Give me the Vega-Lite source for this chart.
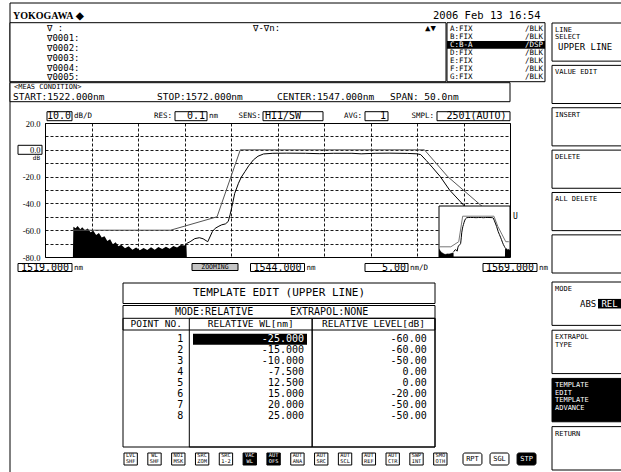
{
"$schema": "https://vega.github.io/schema/vega-lite/v6.json",
"width": 465,
"height": 134,
"autosize": {"type": "none"},
"padding": {"left": 45, "top": 123, "right": 111, "bottom": 215},
"background": "white",
"config": {
  "view": {"stroke": "black", "strokeWidth": 1},
  "locale": {"number": {"decimal": ".", "thousands": ",", "grouping": [3], "currency": ["", ""], "minus": "-"}},
  "text": {"font": "DejaVu Sans Mono", "color": "black", "baseline": "middle"}
},
"datasets": {
  "trace": [
    {"wl": 1534.2, "db": -70.0}, {"wl": 1534.6, "db": -68.6}, {"wl": 1535.1, "db": -66.3}, {"wl": 1535.6, "db": -65.6},
    {"wl": 1536.0, "db": -66.4}, {"wl": 1536.5, "db": -68.6}, {"wl": 1537.0, "db": -61.0}, {"wl": 1537.3, "db": -58.6},
    {"wl": 1537.7, "db": -57.0}, {"wl": 1538.0, "db": -56.0}, {"wl": 1538.4, "db": -55.3}, {"wl": 1538.7, "db": -53.5},
    {"wl": 1538.9, "db": -48.5}, {"wl": 1539.1, "db": -42.4}, {"wl": 1539.4, "db": -32.5}, {"wl": 1539.8, "db": -25.0},
    {"wl": 1540.1, "db": -20.5}, {"wl": 1540.5, "db": -16.3}, {"wl": 1540.9, "db": -12.0}, {"wl": 1541.4, "db": -7.6},
    {"wl": 1541.9, "db": -4.8}, {"wl": 1542.5, "db": -3.1}, {"wl": 1543.5, "db": -2.6}, {"wl": 1545.0, "db": -2.5},
    {"wl": 1547.0, "db": -2.6}, {"wl": 1548.5, "db": -2.9}, {"wl": 1550.0, "db": -2.6}, {"wl": 1552.0, "db": -2.6},
    {"wl": 1553.0, "db": -3.0}, {"wl": 1554.5, "db": -2.6}, {"wl": 1556.0, "db": -2.5}, {"wl": 1558.0, "db": -2.7},
    {"wl": 1559.0, "db": -3.0}, {"wl": 1559.4, "db": -3.6}, {"wl": 1560.0, "db": -8.0}, {"wl": 1560.7, "db": -13.5},
    {"wl": 1561.5, "db": -20.0}, {"wl": 1562.5, "db": -30.0}, {"wl": 1563.3, "db": -36.0}, {"wl": 1564.0, "db": -41.2},
    {"wl": 1564.6, "db": -46.0}, {"wl": 1565.2, "db": -51.0}, {"wl": 1565.8, "db": -55.5}, {"wl": 1566.4, "db": -59.0},
    {"wl": 1566.9, "db": -62.0}
  ],
  "noise": [
    {"wl": 1522.0, "db": -80, "segment": "left"}, {"wl": 1522.05, "db": -57.5, "segment": "left"},
    {"wl": 1522.3, "db": -58.5, "segment": "left"}, {"wl": 1522.5, "db": -56.8, "segment": "left"},
    {"wl": 1522.8, "db": -59.2, "segment": "left"}, {"wl": 1523.0, "db": -57.8, "segment": "left"},
    {"wl": 1523.3, "db": -60.0, "segment": "left"}, {"wl": 1523.6, "db": -58.8, "segment": "left"},
    {"wl": 1523.9, "db": -61.5, "segment": "left"}, {"wl": 1524.2, "db": -60.5, "segment": "left"},
    {"wl": 1524.5, "db": -63.5, "segment": "left"}, {"wl": 1524.8, "db": -62.0, "segment": "left"},
    {"wl": 1525.1, "db": -65.5, "segment": "left"}, {"wl": 1525.4, "db": -64.5, "segment": "left"},
    {"wl": 1525.7, "db": -68.0, "segment": "left"}, {"wl": 1526.0, "db": -66.8, "segment": "left"},
    {"wl": 1526.3, "db": -70.5, "segment": "left"}, {"wl": 1526.6, "db": -69.0, "segment": "left"},
    {"wl": 1526.9, "db": -72.0, "segment": "left"}, {"wl": 1527.2, "db": -70.8, "segment": "left"},
    {"wl": 1527.6, "db": -73.5, "segment": "left"}, {"wl": 1528.0, "db": -72.0, "segment": "left"},
    {"wl": 1528.4, "db": -74.5, "segment": "left"}, {"wl": 1528.8, "db": -73.0, "segment": "left"},
    {"wl": 1529.2, "db": -75.0, "segment": "left"}, {"wl": 1529.6, "db": -73.2, "segment": "left"},
    {"wl": 1530.0, "db": -74.8, "segment": "left"}, {"wl": 1530.4, "db": -72.8, "segment": "left"},
    {"wl": 1530.8, "db": -74.5, "segment": "left"}, {"wl": 1531.2, "db": -72.5, "segment": "left"},
    {"wl": 1531.6, "db": -74.0, "segment": "left"}, {"wl": 1532.0, "db": -72.3, "segment": "left"},
    {"wl": 1532.4, "db": -73.8, "segment": "left"}, {"wl": 1532.8, "db": -71.8, "segment": "left"},
    {"wl": 1533.2, "db": -73.0, "segment": "left"}, {"wl": 1533.6, "db": -71.0, "segment": "left"},
    {"wl": 1534.0, "db": -71.5, "segment": "left"}, {"wl": 1534.2, "db": -70.0, "segment": "left"},
    {"wl": 1534.25, "db": -80, "segment": "left"},
    {"wl": 1566.8, "db": -80, "segment": "right"}, {"wl": 1566.9, "db": -62, "segment": "right"},
    {"wl": 1567.5, "db": -64, "segment": "right"}, {"wl": 1568.0, "db": -63, "segment": "right"},
    {"wl": 1568.5, "db": -66, "segment": "right"}, {"wl": 1569.0, "db": -64, "segment": "right"},
    {"wl": 1569.5, "db": -67, "segment": "right"}, {"wl": 1570.0, "db": -65, "segment": "right"},
    {"wl": 1570.5, "db": -68, "segment": "right"}, {"wl": 1571.0, "db": -66, "segment": "right"},
    {"wl": 1571.5, "db": -69, "segment": "right"}, {"wl": 1572.0, "db": -67, "segment": "right"},
    {"wl": 1572.05, "db": -80, "segment": "right"}
  ],
  "template": [
    {"wl": 1522.0, "db": -60}, {"wl": 1532.5, "db": -60}, {"wl": 1537.5, "db": -50}, {"wl": 1540.0, "db": 0},
    {"wl": 1559.8, "db": 0}, {"wl": 1562.3, "db": -20}, {"wl": 1567.3, "db": -50}, {"wl": 1569.0, "db": -50},
    {"wl": 1572.3, "db": -50}
  ],
  "zoomMarkers": [{"wl": 1526.7}, {"wl": 1568.8}],
  "xlabels": [{"wl": 1519}, {"wl": 1544}, {"wl": 1569}],
  "markers": [
    {"id": 0, "text": "∇    :"}, {"id": 1, "text": "∇0001:"}, {"id": 2, "text": "∇0002:"},
    {"id": 3, "text": "∇0003:"}, {"id": 4, "text": "∇0004:"}, {"id": 5, "text": "∇0005:"}
  ],
  "traces": [
    {"trace": "A", "setting": "A:FIX", "display": "/BLK"},
    {"trace": "B", "setting": "B:FIX", "display": "/BLK"},
    {"trace": "C", "setting": "C:B-A", "display": "/DSP", "active": true},
    {"trace": "D", "setting": "D:FIX", "display": "/BLK"},
    {"trace": "E", "setting": "E:FIX", "display": "/BLK"},
    {"trace": "F", "setting": "F:FIX", "display": "/BLK"},
    {"trace": "G", "setting": "G:FIX", "display": "/BLK"}
  ],
  "meas": [
    {"param": "START", "text": "START:1522.000nm"},
    {"param": "STOP", "text": "STOP:1572.000nm"},
    {"param": "CENTER", "text": "CENTER:1547.000nm"},
    {"param": "SPAN", "text": "SPAN:  50.0nm"}
  ],
  "settings": [
    {"item": "scale", "value": "10.0", "unit": "dB/D"},
    {"item": "res", "label": "RES:", "value": "0.1", "unit": "nm"},
    {"item": "sens", "label": "SENS:", "value": "HI1/SW"},
    {"item": "avg", "label": "AVG:", "value": "1"},
    {"item": "smpl", "label": "SMPL:", "value": "2501(AUTO)"}
  ],
  "table": [
    {"point": 1, "wl": -25, "level": -60, "cursor": true},
    {"point": 2, "wl": -15, "level": -60},
    {"point": 3, "wl": -10, "level": -50},
    {"point": 4, "wl": -7.5, "level": 0},
    {"point": 5, "wl": 12.5, "level": 0},
    {"point": 6, "wl": 15, "level": -20},
    {"point": 7, "wl": 20, "level": -50},
    {"point": 8, "wl": 25, "level": -50}
  ],
  "tablecols": [
    {"col": "wl", "header": "RELATIVE WL[nm]"},
    {"col": "level", "header": "RELATIVE LEVEL[dB]"}
  ],
  "softkeys": [
    {"key": 1, "group": "upper", "label": ["LINE", "SELECT"], "value": "UPPER LINE"},
    {"key": 2, "group": "upper", "label": ["VALUE EDIT"]},
    {"key": 3, "group": "upper", "label": ["INSERT"]},
    {"key": 4, "group": "upper", "label": ["DELETE"]},
    {"key": 5, "group": "upper", "label": ["ALL DELETE"]},
    {"key": 6, "group": "upper", "label": [""]},
    {"key": 7, "group": "lower", "label": ["MODE"], "value": "ABS", "selected": "REL"},
    {"key": 8, "group": "lower", "label": ["EXTRAPOL", "TYPE"]},
    {"key": 9, "group": "lower", "label": ["TEMPLATE", "EDIT", "TEMPLATE", "ADVANCE"], "menu": true},
    {"key": 10, "group": "lower", "label": ["RETURN"]}
  ],
  "buttons": [
    {"b": "LVL SHF", "group": "func", "lines": ["LVL", "SHF"]},
    {"b": "WL SHF", "group": "func", "lines": ["WL", "SHF"]},
    {"b": "NOI MSK", "group": "func", "lines": ["NOI", "MSK"]},
    {"b": "SRC ZOM", "group": "func", "lines": ["SRC", "ZOM"]},
    {"b": "SRC 1-2", "group": "func", "lines": ["SRC", "1-2"]},
    {"b": "VAC WL", "group": "func", "lines": ["VAC", "WL"], "on": true},
    {"b": "AUT OFS", "group": "func", "lines": ["AUT", "OFS"], "on": true},
    {"b": "AUT ANA", "group": "func", "lines": ["AUT", "ANA"]},
    {"b": "AUT SRC", "group": "func", "lines": ["AUT", "SRC"]},
    {"b": "AUT SCL", "group": "func", "lines": ["AUT", "SCL"]},
    {"b": "AUT REF", "group": "func", "lines": ["AUT", "REF"]},
    {"b": "AUT CTR", "group": "func", "lines": ["AUT", "CTR"]},
    {"b": "SWP INT", "group": "func", "lines": ["SWP", "INT"]},
    {"b": "SMO OTH", "group": "func", "lines": ["SMO", "OTH"]},
    {"b": "RPT", "group": "sweep", "lines": ["RPT"]},
    {"b": "SGL", "group": "sweep", "lines": ["SGL"]},
    {"b": "STP", "group": "sweep", "lines": ["STP"], "on": true}
  ]
},
"resolve": {"scale": {"x": "independent", "y": "independent"}},
"layer": [
  {
    "data": {"values": [{"part": "screen"}]},
    "mark": {"type": "rect", "filled": false, "color": "black", "strokeWidth": 1},
    "encoding": {
      "x": {"field": "part", "type": "nominal", "scale": {"type": "band", "range": [-35, 700], "paddingInner": 0, "paddingOuter": 0}, "axis": null},
      "y": {"field": "part", "type": "nominal", "scale": {"type": "band", "range": [-120, 500], "paddingInner": 0, "paddingOuter": 0}, "axis": null}
    }
  },
  {
    "encoding": {
      "x": {"field": "wl", "type": "quantitative", "scale": {"domain": [1519, 1569]},
        "axis": {"values": [1519, 1524, 1529, 1534, 1539, 1544, 1549, 1554, 1559, 1564, 1569], "grid": true, "gridColor": "black", "gridDash": [3, 2], "gridWidth": 1, "gridOpacity": 0.9, "labels": false, "ticks": false, "domain": false, "title": null}},
      "y": {"field": "db", "type": "quantitative", "scale": {"domain": [-80, 20]},
        "axis": {"values": [-80, -70, -60, -50, -40, -30, -20, -10, 0, 10, 20], "grid": true, "gridColor": "black", "gridDash": [3, 2], "gridWidth": 1, "gridOpacity": 0.9, "ticks": false, "domain": false, "title": null,
          "labelExpr": "datum.value % 20 == 0 ? datum.value + '.0' : ''", "labelFont": "Liberation Sans Narrow", "labelFontSize": 8.5, "labelColor": "black", "labelPadding": 5, "labelFlush": false, "labelOverlap": false}}
    },
    "layer": [
      {"data": {"name": "noise"}, "transform": [{"filter": "datum.wl <= 1569"}], "mark": {"type": "area", "color": "black"},
       "encoding": {"y2": {"datum": -80}, "detail": {"field": "segment", "type": "nominal"}}},
      {"data": {"name": "template"}, "transform": [{"filter": "datum.wl <= 1569"}], "mark": {"type": "line", "color": "#555555", "strokeWidth": 1}},
      {"data": {"name": "trace"}, "transform": [{"filter": "datum.wl <= 1569"}], "mark": {"type": "line", "color": "black", "strokeWidth": 1}}
    ]
  },
  {
    "data": {"values": [{"panel": "overview"}]},
    "mark": {"type": "rect", "fill": "white", "stroke": "black", "strokeWidth": 1},
    "encoding": {
      "x": {"field": "panel", "type": "nominal", "scale": {"type": "band", "range": [394, 465], "paddingInner": 0, "paddingOuter": 0}, "axis": null},
      "y": {"field": "panel", "type": "nominal", "scale": {"type": "band", "range": [83, 134], "paddingInner": 0, "paddingOuter": 0}, "axis": null}
    }
  },
  {
    "encoding": {
      "x": {"field": "wl", "type": "quantitative", "scale": {"domain": [1525, 1570], "range": [394, 465], "clamp": true}, "axis": null},
      "y": {"field": "db", "type": "quantitative", "scale": {"domain": [-80, 20], "range": [134, 83]}, "axis": null}
    },
    "layer": [
      {"data": {"name": "noise"}, "mark": {"type": "area", "color": "black"}, "encoding": {"y2": {"datum": -80}, "detail": {"field": "segment", "type": "nominal"}}},
      {"data": {"name": "template"}, "mark": {"type": "line", "color": "#777777", "strokeWidth": 1}},
      {"data": {"name": "trace"}, "mark": {"type": "line", "color": "black", "strokeWidth": 1}},
      {"data": {"name": "zoomMarkers"}, "mark": {"type": "rule", "color": "black", "strokeDash": [1, 1], "strokeWidth": 1},
       "encoding": {"y": {"datum": -80, "type": "quantitative"}, "y2": {"datum": 20}}}
    ]
  },
  {
    "data": {"values": [{"item": "upper", "text": "U"}]},
    "mark": {"type": "text", "align": "left", "fontSize": 8},
    "encoding": {
      "x": {"field": "item", "type": "nominal", "scale": {"type": "point", "range": [468, 468], "padding": 0}, "axis": null},
      "y": {"field": "item", "type": "nominal", "scale": {"type": "point", "range": [93.5, 93.5], "padding": 0}, "axis": null},
      "text": {"field": "text"}
    }
  },
  {
    "data": {"values": [{"ref": 0}]},
    "encoding": {
      "x": {"datum": "ref", "type": "nominal", "scale": {"type": "band", "range": [-27, -3], "paddingInner": 0, "paddingOuter": 0}, "axis": null},
      "y": {"field": "ref", "type": "quantitative", "scale": {"domain": [-80, 20]}, "axis": null}
    },
    "layer": [
      {"mark": {"type": "rect", "filled": false, "color": "black", "strokeWidth": 1, "height": 9}},
      {"mark": {"type": "text", "text": "dB", "align": "right", "dx": -2, "dy": 8.5, "fontSize": 6},
       "encoding": {"x": {"datum": "ref", "type": "nominal", "bandPosition": 1}}}
    ]
  },
  {
    "data": {"name": "xlabels"},
    "encoding": {
      "x": {"field": "wl", "type": "quantitative", "scale": {"domain": [1519, 1569]}, "axis": null},
      "y": {"datum": "row", "type": "nominal", "scale": {"type": "band", "range": [140.5, 148.5], "paddingInner": 0, "paddingOuter": 0}, "axis": null}
    },
    "layer": [
      {"mark": {"type": "rect", "fill": "white", "stroke": "black", "strokeWidth": 1, "width": 54}},
      {"mark": {"type": "text", "align": "center", "fontSize": 10}, "encoding": {"text": {"field": "wl", "type": "quantitative", "format": ".3f"}}},
      {"mark": {"type": "text", "text": "nm", "align": "left", "dx": 29, "fontSize": 7.5}}
    ]
  },
  {
    "data": {"values": [{"item": "ZOOMING"}]},
    "encoding": {
      "x": {"field": "item", "type": "nominal", "scale": {"type": "band", "range": [147, 193], "paddingInner": 0, "paddingOuter": 0}, "axis": null},
      "y": {"field": "item", "type": "nominal", "scale": {"type": "band", "range": [140.5, 147.5], "paddingInner": 0, "paddingOuter": 0}, "axis": null}
    },
    "layer": [
      {"mark": {"type": "rect", "fill": "#c4c4c4", "stroke": "black", "strokeWidth": 1}},
      {"mark": {"type": "text", "align": "center", "fontSize": 6.5}, "encoding": {"text": {"field": "item"}}}
    ]
  },
  {
    "data": {"values": [{"item": "div", "value": "5.00", "unit": "nm/D"}]},
    "encoding": {
      "x": {"field": "item", "type": "nominal", "scale": {"type": "band", "range": [320, 363], "paddingInner": 0, "paddingOuter": 0}, "axis": null},
      "y": {"field": "item", "type": "nominal", "scale": {"type": "band", "range": [140.5, 148.5], "paddingInner": 0, "paddingOuter": 0}, "axis": null}
    },
    "layer": [
      {"mark": {"type": "rect", "fill": "white", "stroke": "black", "strokeWidth": 1}},
      {"mark": {"type": "text", "align": "right", "dx": -2, "fontSize": 10}, "encoding": {"x": {"field": "item", "type": "nominal", "bandPosition": 1}, "text": {"field": "value"}}},
      {"mark": {"type": "text", "align": "left", "dx": 2, "fontSize": 7.5}, "encoding": {"x": {"field": "item", "type": "nominal", "bandPosition": 1}, "text": {"field": "unit"}}}
    ]
  },
  {
    "data": {"values": [{"item": "maker", "text": "YOKOGAWA ◆"}]},
    "mark": {"type": "text", "align": "left", "font": "Liberation Sans Narrow", "fontSize": 10, "fontWeight": "bold"},
    "encoding": {
      "x": {"field": "item", "type": "nominal", "scale": {"type": "point", "range": [-32, -32], "padding": 0}, "axis": null},
      "y": {"field": "item", "type": "nominal", "scale": {"type": "point", "range": [-107, -107], "padding": 0}, "axis": null},
      "text": {"field": "text"}
    }
  },
  {
    "data": {"values": [{"item": "clock", "text": "2006 Feb 13 16:54"}]},
    "mark": {"type": "text", "align": "left", "fontSize": 10.5},
    "encoding": {
      "x": {"field": "item", "type": "nominal", "scale": {"type": "point", "range": [388, 388], "padding": 0}, "axis": null},
      "y": {"field": "item", "type": "nominal", "scale": {"type": "point", "range": [-107, -107], "padding": 0}, "axis": null},
      "text": {"field": "text"}
    }
  },
  {
    "data": {"values": [{"panel": "markers"}]},
    "mark": {"type": "rect", "fill": "white", "stroke": "black", "strokeWidth": 1},
    "encoding": {
      "x": {"field": "panel", "type": "nominal", "scale": {"type": "band", "range": [-35, 401], "paddingInner": 0, "paddingOuter": 0}, "axis": null},
      "y": {"field": "panel", "type": "nominal", "scale": {"type": "band", "range": [-100.3, -41.3], "paddingInner": 0, "paddingOuter": 0}, "axis": null}
    }
  },
  {
    "data": {"name": "markers"},
    "mark": {"type": "text", "align": "left", "fontSize": 9},
    "encoding": {
      "x": {"datum": "list", "type": "nominal", "scale": {"type": "point", "range": [2, 2], "padding": 0}, "axis": null},
      "y": {"field": "id", "type": "ordinal", "scale": {"type": "point", "range": [-94.7, -45.7], "padding": 0}, "axis": null},
      "text": {"field": "text"}
    }
  },
  {
    "data": {"values": [{"item": "delta", "text": "∇-∇n:"}, {"item": "scroll", "text": "▲▼"}]},
    "mark": {"type": "text", "align": "left", "fontSize": 9},
    "encoding": {
      "x": {"field": "item", "type": "nominal", "scale": {"type": "point", "domain": ["delta", "scroll"], "range": [208, 380], "padding": 0}, "axis": null},
      "y": {"datum": "row", "type": "nominal", "scale": {"type": "point", "range": [-94.7, -94.7], "padding": 0}, "axis": null},
      "text": {"field": "text"}
    }
  },
  {
    "data": {"name": "traces"},
    "encoding": {
      "x": {"datum": "list", "type": "nominal", "scale": {"type": "band", "range": [402, 500], "paddingInner": 0, "paddingOuter": 0}, "axis": null},
      "y": {"field": "trace", "type": "nominal", "scale": {"type": "band", "domain": ["A", "B", "C", "D", "E", "F", "G"], "range": [-98, -42.4], "paddingInner": 0, "paddingOuter": 0}, "axis": null}
    },
    "layer": [
      {"transform": [{"filter": "datum.active === true"}], "mark": {"type": "rect", "color": "black"}},
      {"mark": {"type": "text", "align": "left", "dx": 3, "fontSize": 7.5},
       "encoding": {"x": {"datum": "list", "type": "nominal", "bandPosition": 0}, "text": {"field": "setting"},
         "color": {"condition": {"test": "datum.active === true", "value": "white"}, "value": "black"}}},
      {"mark": {"type": "text", "align": "right", "dx": -2, "fontSize": 7.5},
       "encoding": {"x": {"datum": "list", "type": "nominal", "bandPosition": 1}, "text": {"field": "display"},
         "color": {"condition": {"test": "datum.active === true", "value": "white"}, "value": "black"}}}
    ]
  },
  {
    "data": {"values": [{"panel": "traces"}]},
    "mark": {"type": "rect", "filled": false, "color": "black", "strokeWidth": 1},
    "encoding": {
      "x": {"field": "panel", "type": "nominal", "scale": {"type": "band", "range": [402, 500], "paddingInner": 0, "paddingOuter": 0}, "axis": null},
      "y": {"field": "panel", "type": "nominal", "scale": {"type": "band", "range": [-100.3, -41.3], "paddingInner": 0, "paddingOuter": 0}, "axis": null}
    }
  },
  {
    "data": {"values": [{"panel": "meas"}]},
    "mark": {"type": "rect", "fill": "white", "stroke": "black", "strokeWidth": 1},
    "encoding": {
      "x": {"field": "panel", "type": "nominal", "scale": {"type": "band", "range": [-35, 465], "paddingInner": 0, "paddingOuter": 0}, "axis": null},
      "y": {"field": "panel", "type": "nominal", "scale": {"type": "band", "range": [-40.3, -21.3], "paddingInner": 0, "paddingOuter": 0}, "axis": null}
    }
  },
  {
    "data": {"values": [{"item": "title", "text": "<MEAS CONDITION>"}]},
    "mark": {"type": "text", "align": "left", "fontSize": 7},
    "encoding": {
      "x": {"field": "item", "type": "nominal", "scale": {"type": "point", "range": [-31, -31], "padding": 0}, "axis": null},
      "y": {"field": "item", "type": "nominal", "scale": {"type": "point", "range": [-35.8, -35.8], "padding": 0}, "axis": null},
      "text": {"field": "text"}
    }
  },
  {
    "data": {"name": "meas"},
    "transform": [{"filter": "datum.param === 'START' || datum.param === 'STOP'"}],
    "mark": {"type": "text", "align": "left", "fontSize": 9.5},
    "encoding": {
      "x": {"field": "param", "type": "nominal", "scale": {"type": "point", "domain": ["START", "STOP"], "range": [-32, 112], "padding": 0}, "axis": null},
      "y": {"datum": "row", "type": "nominal", "scale": {"type": "point", "range": [-26.3, -26.3], "padding": 0}, "axis": null},
      "text": {"field": "text"}
    }
  },
  {
    "data": {"name": "meas"},
    "transform": [{"filter": "datum.param === 'CENTER' || datum.param === 'SPAN'"}],
    "mark": {"type": "text", "align": "left", "fontSize": 9.5},
    "encoding": {
      "x": {"field": "param", "type": "nominal", "scale": {"type": "point", "domain": ["CENTER", "SPAN"], "range": [232, 345], "padding": 0}, "axis": null},
      "y": {"datum": "row", "type": "nominal", "scale": {"type": "point", "range": [-26.3, -26.3], "padding": 0}, "axis": null},
      "text": {"field": "text"}
    }
  },
  {
    "data": {"name": "settings"},
    "transform": [{"filter": "datum.item === 'scale'"}],
    "encoding": {
      "x": {"field": "item", "type": "nominal", "scale": {"type": "band", "range": [2, 27], "paddingInner": 0, "paddingOuter": 0}, "axis": null},
      "y": {"field": "item", "type": "nominal", "scale": {"type": "band", "range": [-11.3, -2.3], "paddingInner": 0, "paddingOuter": 0}, "axis": null}
    },
    "layer": [
      {"mark": {"type": "rect", "fill": "white", "stroke": "black", "strokeWidth": 1}},
      {"mark": {"type": "text", "align": "right", "dx": -1, "fontSize": 10}, "encoding": {"x": {"field": "item", "type": "nominal", "bandPosition": 1}, "text": {"field": "value"}}},
      {"mark": {"type": "text", "align": "left", "dx": 2, "fontSize": 7.5}, "encoding": {"x": {"field": "item", "type": "nominal", "bandPosition": 1}, "text": {"field": "unit"}}}
    ]
  },
  {
    "data": {"name": "settings"},
    "transform": [{"filter": "datum.item === 'res'"}],
    "encoding": {
      "x": {"field": "item", "type": "nominal", "scale": {"type": "band", "range": [130, 162], "paddingInner": 0, "paddingOuter": 0}, "axis": null},
      "y": {"field": "item", "type": "nominal", "scale": {"type": "band", "range": [-11.3, -2.3], "paddingInner": 0, "paddingOuter": 0}, "axis": null}
    },
    "layer": [
      {"mark": {"type": "rect", "fill": "white", "stroke": "black", "strokeWidth": 1}},
      {"mark": {"type": "text", "align": "right", "dx": -2, "fontSize": 10}, "encoding": {"x": {"field": "item", "type": "nominal", "bandPosition": 1}, "text": {"field": "value"}}},
      {"mark": {"type": "text", "align": "right", "dx": -3, "fontSize": 7.5}, "encoding": {"x": {"field": "item", "type": "nominal", "bandPosition": 0}, "text": {"field": "label"}}},
      {"mark": {"type": "text", "align": "left", "dx": 2, "fontSize": 7.5}, "encoding": {"x": {"field": "item", "type": "nominal", "bandPosition": 1}, "text": {"field": "unit"}}}
    ]
  },
  {
    "data": {"name": "settings"},
    "transform": [{"filter": "datum.item === 'sens'"}],
    "encoding": {
      "x": {"field": "item", "type": "nominal", "scale": {"type": "band", "range": [218, 278], "paddingInner": 0, "paddingOuter": 0}, "axis": null},
      "y": {"field": "item", "type": "nominal", "scale": {"type": "band", "range": [-11.3, -2.3], "paddingInner": 0, "paddingOuter": 0}, "axis": null}
    },
    "layer": [
      {"mark": {"type": "rect", "fill": "white", "stroke": "black", "strokeWidth": 1}},
      {"mark": {"type": "text", "align": "left", "dx": 2, "fontSize": 10}, "encoding": {"x": {"field": "item", "type": "nominal", "bandPosition": 0}, "text": {"field": "value"}}},
      {"mark": {"type": "text", "align": "right", "dx": -2, "fontSize": 7.5}, "encoding": {"x": {"field": "item", "type": "nominal", "bandPosition": 0}, "text": {"field": "label"}}}
    ]
  },
  {
    "data": {"name": "settings"},
    "transform": [{"filter": "datum.item === 'avg'"}],
    "encoding": {
      "x": {"field": "item", "type": "nominal", "scale": {"type": "band", "range": [320, 343], "paddingInner": 0, "paddingOuter": 0}, "axis": null},
      "y": {"field": "item", "type": "nominal", "scale": {"type": "band", "range": [-11.3, -2.3], "paddingInner": 0, "paddingOuter": 0}, "axis": null}
    },
    "layer": [
      {"mark": {"type": "rect", "fill": "white", "stroke": "black", "strokeWidth": 1}},
      {"mark": {"type": "text", "align": "right", "dx": -2, "fontSize": 10}, "encoding": {"x": {"field": "item", "type": "nominal", "bandPosition": 1}, "text": {"field": "value"}}},
      {"mark": {"type": "text", "align": "right", "dx": -3, "fontSize": 7.5}, "encoding": {"x": {"field": "item", "type": "nominal", "bandPosition": 0}, "text": {"field": "label"}}}
    ]
  },
  {
    "data": {"name": "settings"},
    "transform": [{"filter": "datum.item === 'smpl'"}],
    "encoding": {
      "x": {"field": "item", "type": "nominal", "scale": {"type": "band", "range": [392, 465], "paddingInner": 0, "paddingOuter": 0}, "axis": null},
      "y": {"field": "item", "type": "nominal", "scale": {"type": "band", "range": [-11.3, -2.3], "paddingInner": 0, "paddingOuter": 0}, "axis": null}
    },
    "layer": [
      {"mark": {"type": "rect", "fill": "white", "stroke": "black", "strokeWidth": 1}},
      {"mark": {"type": "text", "align": "center", "dx": 3, "fontSize": 10}, "encoding": {"text": {"field": "value"}}},
      {"mark": {"type": "text", "align": "right", "dx": -3, "fontSize": 7.5}, "encoding": {"x": {"field": "item", "type": "nominal", "bandPosition": 0}, "text": {"field": "label"}}}
    ]
  },
  {
    "data": {"values": [{"part": "title", "text": "TEMPLATE EDIT (UPPER LINE)"}]},
    "encoding": {
      "x": {"field": "part", "type": "nominal", "scale": {"type": "band", "range": [78, 390], "paddingInner": 0, "paddingOuter": 0}, "axis": null},
      "y": {"field": "part", "type": "nominal", "scale": {"type": "band", "range": [160, 180.5], "paddingInner": 0, "paddingOuter": 0}, "axis": null}
    },
    "layer": [
      {"mark": {"type": "rect", "fill": "white", "stroke": "black", "strokeWidth": 1}},
      {"mark": {"type": "text", "align": "center", "fontSize": 11}, "encoding": {"text": {"field": "text"}}}
    ]
  },
  {
    "data": {"values": [{"part": "body"}]},
    "mark": {"type": "rect", "fill": "white", "stroke": "black", "strokeWidth": 1},
    "encoding": {
      "x": {"field": "part", "type": "nominal", "scale": {"type": "band", "range": [78, 390], "paddingInner": 0, "paddingOuter": 0}, "axis": null},
      "y": {"field": "part", "type": "nominal", "scale": {"type": "band", "range": [182.5, 324], "paddingInner": 0, "paddingOuter": 0}, "axis": null}
    }
  },
  {
    "data": {"values": [{"part": "header"}]},
    "mark": {"type": "rect", "filled": false, "color": "black", "strokeWidth": 1},
    "encoding": {
      "x": {"field": "part", "type": "nominal", "scale": {"type": "band", "range": [78, 390], "paddingInner": 0, "paddingOuter": 0}, "axis": null},
      "y": {"field": "part", "type": "nominal", "scale": {"type": "band", "range": [195.3, 207], "paddingInner": 0, "paddingOuter": 0}, "axis": null}
    }
  },
  {
    "data": {"name": "tablecols"},
    "encoding": {
      "x": {"field": "col", "type": "nominal", "scale": {"type": "band", "domain": ["wl", "level"], "range": [144.3, 390], "paddingInner": 0, "paddingOuter": 0}, "axis": null},
      "y": {"datum": "cols", "type": "nominal", "scale": {"type": "band", "range": [195.3, 324], "paddingInner": 0, "paddingOuter": 0}, "axis": null}
    },
    "layer": [
      {"mark": {"type": "rect", "filled": false, "color": "black", "strokeWidth": 1}},
      {"mark": {"type": "text", "align": "center", "dy": 6, "fontSize": 9.5},
       "encoding": {"y": {"datum": "cols", "type": "nominal", "bandPosition": 0}, "text": {"field": "header"}}}
    ]
  },
  {
    "data": {"values": [{"header": "POINT NO."}]},
    "mark": {"type": "text", "align": "center", "fontSize": 9.5},
    "encoding": {
      "x": {"datum": "pt", "type": "nominal", "scale": {"type": "point", "range": [111.2, 111.2], "padding": 0}, "axis": null},
      "y": {"datum": "hdr", "type": "nominal", "scale": {"type": "point", "range": [201.3, 201.3], "padding": 0}, "axis": null},
      "text": {"field": "header"}
    }
  },
  {
    "data": {"values": [{"k": "mode", "text": "MODE:RELATIVE"}, {"k": "extrapol", "text": "EXTRAPOL:NONE"}]},
    "mark": {"type": "text", "align": "left", "fontSize": 10},
    "encoding": {
      "x": {"field": "k", "type": "nominal", "scale": {"type": "point", "domain": ["mode", "extrapol"], "range": [130, 245], "padding": 0}, "axis": null},
      "y": {"datum": "mode", "type": "nominal", "scale": {"type": "point", "range": [189, 189], "padding": 0}, "axis": null},
      "text": {"field": "text"}
    }
  },
  {
    "data": {"name": "table"},
    "encoding": {
      "y": {"field": "point", "type": "ordinal", "scale": {"type": "band", "range": [210.8, 298.4], "paddingInner": 0, "paddingOuter": 0}, "axis": null}
    },
    "resolve": {"scale": {"x": "independent"}},
    "layer": [
      {"transform": [{"filter": "datum.cursor === true"}], "mark": {"type": "rect", "color": "black"},
       "encoding": {"x": {"datum": "cursor", "type": "nominal", "scale": {"type": "band", "range": [148, 262], "paddingInner": 0, "paddingOuter": 0}, "axis": null}}},
      {"mark": {"type": "text", "align": "right", "fontSize": 10},
       "encoding": {"x": {"datum": "point", "type": "nominal", "scale": {"type": "point", "range": [138.3, 138.3], "padding": 0}, "axis": null},
         "text": {"field": "point", "type": "quantitative"}}},
      {"mark": {"type": "text", "align": "right", "fontSize": 10},
       "encoding": {"x": {"datum": "wl", "type": "nominal", "scale": {"type": "point", "range": [259, 259], "padding": 0}, "axis": null},
         "text": {"field": "wl", "type": "quantitative", "format": ".3f"},
         "color": {"condition": {"test": "datum.cursor === true", "value": "white"}, "value": "black"}}},
      {"mark": {"type": "text", "align": "right", "fontSize": 10},
       "encoding": {"x": {"datum": "level", "type": "nominal", "scale": {"type": "point", "range": [381.7, 381.7], "padding": 0}, "axis": null},
         "text": {"field": "level", "type": "quantitative", "format": ".2f"}}}
    ]
  },
  {
    "data": {"name": "softkeys"},
    "transform": [{"filter": "datum.group === 'upper'"}],
    "encoding": {
      "x": {"datum": "key", "type": "nominal", "scale": {"type": "band", "range": [507, 580], "paddingInner": 0, "paddingOuter": 0}, "axis": null},
      "y": {"field": "key", "type": "ordinal", "scale": {"type": "band", "range": [-100, 150], "paddingInner": 0.1, "paddingOuter": 0}, "axis": null}
    },
    "layer": [
      {"mark": {"type": "rect", "fill": "white", "stroke": "black", "strokeWidth": 1}},
      {"mark": {"type": "text", "align": "left", "baseline": "top", "dx": 3, "dy": 3, "fontSize": 7, "lineHeight": 7},
       "encoding": {"x": {"datum": "key", "type": "nominal", "bandPosition": 0}, "y": {"field": "key", "type": "ordinal", "bandPosition": 0}, "text": {"field": "label"}}},
      {"transform": [{"filter": "isValid(datum.value)"}], "mark": {"type": "text", "align": "left", "dx": 6, "fontSize": 9},
       "encoding": {"x": {"datum": "key", "type": "nominal", "bandPosition": 0}, "y": {"field": "key", "type": "ordinal", "bandPosition": 0.62}, "text": {"field": "value"}}}
    ]
  },
  {
    "data": {"name": "softkeys"},
    "transform": [{"filter": "datum.group === 'lower'"}],
    "encoding": {
      "x": {"datum": "key", "type": "nominal", "scale": {"type": "band", "range": [507, 580], "paddingInner": 0, "paddingOuter": 0}, "axis": null},
      "y": {"field": "key", "type": "ordinal", "scale": {"type": "band", "range": [159, 347], "paddingInner": 0.1, "paddingOuter": 0}, "axis": null}
    },
    "layer": [
      {"mark": {"type": "rect", "stroke": "black", "strokeWidth": 1},
       "encoding": {"color": {"condition": {"test": "datum.menu === true", "value": "black"}, "value": "white"}}},
      {"mark": {"type": "text", "align": "left", "baseline": "top", "dx": 3, "dy": 3, "fontSize": 7, "lineHeight": 7.5},
       "encoding": {"x": {"datum": "key", "type": "nominal", "bandPosition": 0}, "y": {"field": "key", "type": "ordinal", "bandPosition": 0}, "text": {"field": "label"},
         "color": {"condition": {"test": "datum.menu === true", "value": "white"}, "value": "black"}}},
      {"transform": [{"filter": "isValid(datum.value)"}], "mark": {"type": "text", "align": "left", "dx": 28, "fontSize": 9},
       "encoding": {"x": {"datum": "key", "type": "nominal", "bandPosition": 0}, "text": {"field": "value"}}}
    ]
  },
  {
    "data": {"name": "softkeys"},
    "transform": [{"filter": "isValid(datum.selected)"}],
    "encoding": {
      "x": {"datum": "sel", "type": "nominal", "scale": {"type": "band", "range": [553, 576], "paddingInner": 0, "paddingOuter": 0}, "axis": null},
      "y": {"field": "key", "type": "ordinal", "scale": {"type": "band", "domain": [7, 8, 9, 10], "range": [159, 347], "paddingInner": 0.1, "paddingOuter": 0}, "axis": null}
    },
    "layer": [
      {"mark": {"type": "rect", "color": "black", "height": {"band": 0.22}}},
      {"mark": {"type": "text", "align": "center", "fontSize": 9, "color": "white"}, "encoding": {"text": {"field": "selected"}}}
    ]
  },
  {
    "data": {"name": "buttons"},
    "transform": [{"filter": "datum.group === 'func'"}],
    "encoding": {
      "x": {"field": "b", "type": "nominal", "sort": null, "scale": {"type": "band", "range": [79, 402], "paddingInner": 0.44, "paddingOuter": 0}, "axis": null},
      "y": {"datum": "btn", "type": "nominal", "scale": {"type": "band", "range": [330, 342], "paddingInner": 0, "paddingOuter": 0}, "axis": null}
    },
    "layer": [
      {"mark": {"type": "rect", "stroke": "black", "strokeWidth": 1},
       "encoding": {"color": {"condition": {"test": "datum.on === true", "value": "black"}, "value": "white"}}},
      {"mark": {"type": "text", "align": "center", "baseline": "top", "dy": 0.3, "fontSize": 5.3, "lineHeight": 5.8},
       "encoding": {"y": {"datum": "btn", "type": "nominal", "bandPosition": 0}, "text": {"field": "lines"},
         "color": {"condition": {"test": "datum.on === true", "value": "white"}, "value": "black"}}}
    ]
  },
  {
    "data": {"name": "buttons"},
    "transform": [{"filter": "datum.group === 'sweep'"}],
    "encoding": {
      "x": {"field": "b", "type": "nominal", "sort": null, "scale": {"type": "band", "range": [418, 491], "paddingInner": 0.3, "paddingOuter": 0}, "axis": null},
      "y": {"datum": "btn", "type": "nominal", "scale": {"type": "band", "range": [330, 342], "paddingInner": 0, "paddingOuter": 0}, "axis": null}
    },
    "layer": [
      {"mark": {"type": "rect", "stroke": "black", "strokeWidth": 1, "cornerRadius": 2},
       "encoding": {"color": {"condition": {"test": "datum.on === true", "value": "black"}, "value": "white"}}},
      {"mark": {"type": "text", "align": "center", "fontSize": 7},
       "encoding": {"text": {"field": "lines"},
         "color": {"condition": {"test": "datum.on === true", "value": "white"}, "value": "black"}}}
    ]
  }
]
}
